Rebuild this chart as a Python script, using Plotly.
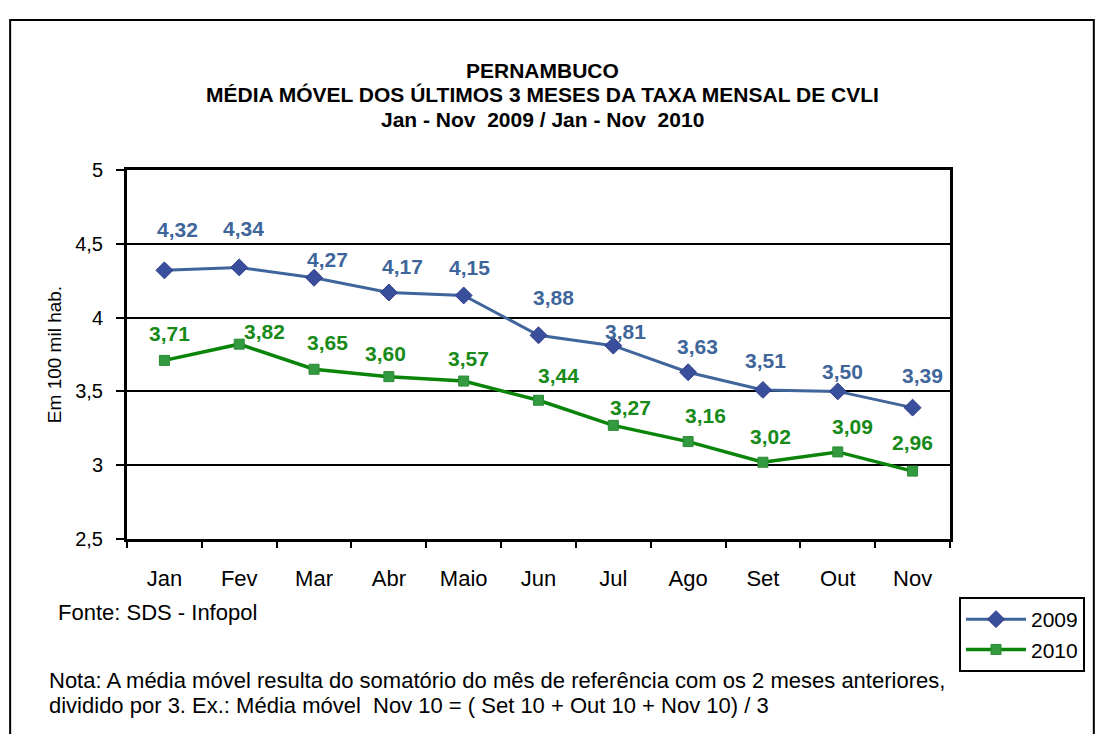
import plotly.graph_objects as go

months = ["Jan", "Fev", "Mar", "Abr", "Maio", "Jun", "Jul", "Ago", "Set", "Out", "Nov"]
values_2009 = [4.32, 4.34, 4.27, 4.17, 4.15, 3.88, 3.81, 3.63, 3.51, 3.50, 3.39]
values_2010 = [3.71, 3.82, 3.65, 3.60, 3.57, 3.44, 3.27, 3.16, 3.02, 3.09, 2.96]
y_ticks = [2.5, 3, 3.5, 4, 4.5, 5]

# label offsets (pixels) relative to points
off_2009 = [(13, 41), (4, 39), (13, 18), (14, 26), (6, 28), (15, 38), (12, 14), (9, 26), (3, 29), (5, 20), (10, 32)]
off_2010 = [(5, 27), (25, 13), (13, 27), (-3, 23), (5, 23), (20, 25), (17, 18), (17, 26), (8, 26), (15, 25), (0, 29)]

C09_LINE = "#3F659B"
C09_MARK = "#3A4F9C"
C09_TEXT = "#3F669A"
C10_LINE = "#0A850A"
C10_MARK = "#339A3F"
C10_TEXT = "#178A17"
FONT = "Arial, Liberation Sans, sans-serif"

# page has an 8px body margin: work in screenshot pixels and convert
OFF = 8
WIN_W, WIN_H = 1104, 742
W, H = WIN_W - 2 * OFF, WIN_H - 2 * OFF
L, R, T, B = 127, 951, 170, 539  # plot area in screenshot pixels
pw, ph = R - L, B - T


def px(x):
    return (x - L) / pw


def py(y):
    return (B - y) / ph


fig = go.Figure()
fig.add_trace(go.Scatter(
    x=months, y=values_2009, name="2009", mode="lines+markers",
    line=dict(color=C09_LINE, width=3),
    marker=dict(symbol="diamond", size=13, color=C09_MARK, line=dict(color="#2E3A8C", width=1)),
))
fig.add_trace(go.Scatter(
    x=months, y=values_2010, name="2010", mode="lines+markers",
    line=dict(color=C10_LINE, width=3.5),
    marker=dict(symbol="square", size=10, color=C10_MARK, line=dict(color="#2A8A35", width=1)),
))

annotations = []
for vals, offs, col in [(values_2009, off_2009, C09_TEXT), (values_2010, off_2010, C10_TEXT)]:
    for m, v, (dx, dy) in zip(months, vals, offs):
        annotations.append(dict(x=m, y=v, xref="x", yref="y", text=f"{v:.2f}".replace(".", ","),
                                showarrow=False, xshift=dx, yshift=dy,
                                font=dict(family=FONT, size=21, color=col, weight="bold")))

title_font = dict(family=FONT, size=21, color="black", weight="bold")
for txt, yy in [("PERNAMBUCO", 70), ("MÉDIA MÓVEL DOS ÚLTIMOS 3 MESES DA TAXA MENSAL DE CVLI", 94),
                ("Jan - Nov  2009 / Jan - Nov  2010", 120)]:
    annotations.append(dict(x=px(543), y=py(yy), xref="paper", yref="paper", text=txt, showarrow=False,
                            xanchor="center", yanchor="middle", font=title_font))

annotations.append(dict(x=px(56), y=py(612), xref="paper", yref="paper", text="Fonte: SDS - Infopol",
                        showarrow=False, xanchor="left", yanchor="middle",
                        font=dict(family=FONT, size=22, color="black")))
annotations.append(dict(x=px(47), y=py(680), xref="paper", yref="paper",
                        text="Nota: A média móvel resulta do somatório do mês de referência com os 2 meses anteriores,",
                        showarrow=False, xanchor="left", yanchor="middle",
                        font=dict(family=FONT, size=22, color="black")))
annotations.append(dict(x=px(47), y=py(705), xref="paper", yref="paper",
                        text="dividido por 3. Ex.: Média móvel  Nov 10 = ( Set 10 + Out 10 + Nov 10) / 3",
                        showarrow=False, xanchor="left", yanchor="middle",
                        font=dict(family=FONT, size=22, color="black")))

shapes = [
    dict(type="rect", xref="paper", yref="paper", x0=px(10), x1=px(1095), y0=py(780), y1=py(20),
         line=dict(color="black", width=2), fillcolor="rgba(0,0,0,0)", layer="below"),
]

fig.update_layout(
    width=W, height=H,
    margin=dict(l=L - OFF, r=(WIN_W - OFF) - R, t=T - OFF, b=(WIN_H - OFF) - B, pad=0),
    paper_bgcolor="white", plot_bgcolor="white",
    separators=",.",
    showlegend=True,
    legend=dict(x=px(959), y=py(597), xanchor="left", yanchor="top",
                bordercolor="black", borderwidth=2, bgcolor="white",
                font=dict(family=FONT, size=21, color="black"),
                itemwidth=60),
    annotations=annotations,
    shapes=shapes,
    font=dict(family=FONT, color="black"),
)
fig.update_xaxes(
    type="category", range=[-0.5, 10.5], showline=True, linecolor="black", linewidth=3, mirror=True,
    ticks="outside", tickson="boundaries", ticklen=6, tickwidth=2, tickcolor="black",
    showgrid=False, tickfont=dict(family=FONT, size=22, color="black"), ticklabelstandoff=18,
)
fig.update_yaxes(
    range=[2.5, 5], tickvals=y_ticks, showline=True, linecolor="black", linewidth=3, mirror=True,
    ticks="outside", ticklen=8, tickwidth=2, tickcolor="black",
    showgrid=True, gridcolor="black", gridwidth=2, zeroline=False,
    tickfont=dict(family=FONT, size=20, color="black"), ticklabelstandoff=9,
    title=dict(text="Em 100 mil hab.", font=dict(family=FONT, size=19, color="black"), standoff=9),
)

fig.write_html("out.html")
